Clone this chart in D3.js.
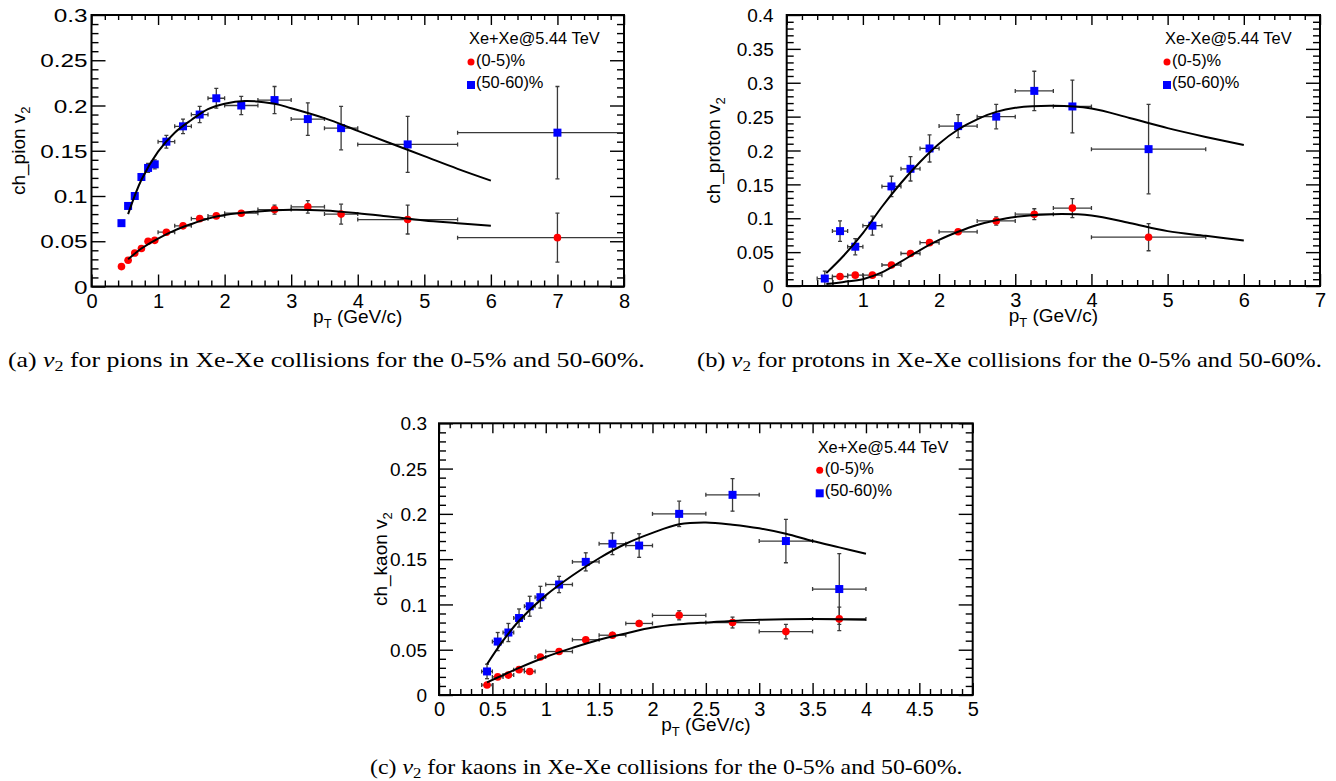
<!DOCTYPE html>
<html>
<head>
<meta charset="utf-8">
<script src="https://cdn.jsdelivr.net/npm/d3@7"></script>
<style>
  body { margin: 0; background: #fff; }
  svg { display: block; }
</style>
</head>
<body>
<svg id="fig" width="1336" height="781"></svg>
<script>
// ---------------- pions ----------------
const pionPt      = [0.45, 0.55, 0.65, 0.75, 0.85, 0.95, 1.125, 1.375, 1.625, 1.875, 2.25, 2.75, 3.25, 3.75, 4.75, 7.0];
const pionPtErr   = [0.05, 0.05, 0.05, 0.05, 0.05, 0.05, 0.125, 0.125, 0.125, 0.125, 0.25, 0.25, 0.25, 0.25, 0.75, 1.5];
const pionV2Central      = [0.022, 0.029, 0.037, 0.042, 0.050, 0.051, 0.060, 0.067, 0.075, 0.078, 0.081, 0.085, 0.088, 0.080, 0.074, 0.054];
const pionV2CentralErr   = [0.001, 0.001, 0.001, 0.001, 0.001, 0.001, 0.002, 0.002, 0.002, 0.003, 0.003, 0.005, 0.007, 0.011, 0.016, 0.027];
const pionV2Peripheral    = [0.070, 0.089, 0.100, 0.121, 0.131, 0.135, 0.160, 0.177, 0.190, 0.208, 0.200, 0.206, 0.185, 0.175, 0.157, 0.170];
const pionV2PeripheralErr = [0.002, 0.003, 0.004, 0.004, 0.005, 0.005, 0.007, 0.008, 0.009, 0.011, 0.010, 0.015, 0.018, 0.024, 0.031, 0.051];
const pionFitCentralPt    = [0.55, 0.75, 1.0, 1.25, 1.5, 1.75, 2.0, 2.5, 3.0, 3.5, 4.0, 4.5, 5.0, 5.5, 6.0];
const pionFitCentral      = [0.030, 0.042, 0.053, 0.062, 0.069, 0.075, 0.079, 0.083, 0.0848, 0.084, 0.081, 0.077, 0.073, 0.070, 0.067];
const pionFitPeripheralPt = [0.55, 0.75, 1.0, 1.25, 1.5, 1.75, 2.0, 2.3, 2.75, 3.0, 3.5, 4.0, 4.5, 5.0, 5.5, 6.0];
const pionFitPeripheral   = [0.080, 0.118, 0.149, 0.170, 0.184, 0.196, 0.202, 0.205, 0.202, 0.197, 0.186, 0.172, 0.158, 0.144, 0.130, 0.117];
const pionXTicks = [0, 1, 2, 3, 4, 5, 6, 7, 8];
const pionYTicks = [0, 0.05, 0.1, 0.15, 0.2, 0.25, 0.3];

// ---------------- protons ----------------
const protonPt      = [0.5, 0.7, 0.9, 1.125, 1.375, 1.625, 1.875, 2.25, 2.75, 3.25, 3.75, 4.75];
const protonPtErr   = [0.1, 0.1, 0.1, 0.125, 0.125, 0.125, 0.125, 0.25, 0.25, 0.25, 0.25, 0.75];
const protonV2Central      = [null, 0.014, 0.016, 0.016, 0.031, 0.048, 0.064, 0.080, 0.096, 0.106, 0.115, 0.072];
const protonV2CentralErr   = [null, 0.004, 0.004, 0.004, 0.004, 0.005, 0.005, 0.004, 0.006, 0.008, 0.014, 0.020];
const protonV2Peripheral    = [0.011, 0.081, 0.058, 0.089, 0.147, 0.173, 0.203, 0.236, 0.250, 0.288, 0.265, 0.202];
const protonV2PeripheralErr = [0.011, 0.015, 0.012, 0.014, 0.015, 0.018, 0.020, 0.017, 0.018, 0.029, 0.039, 0.066];
const protonFitPt         = [0.52, 0.75, 1.0, 1.25, 1.5, 1.75, 2.0, 2.25, 2.5, 2.75, 3.0, 3.5, 4.0, 4.5, 5.0, 5.5, 6.0];
const protonFitCentral    = [0.003, 0.006, 0.010, 0.020, 0.036, 0.053, 0.068, 0.080, 0.090, 0.097, 0.102, 0.106, 0.104, 0.093, 0.081, 0.074, 0.067];
const protonFitPeripheral = [0.019, 0.045, 0.078, 0.117, 0.152, 0.183, 0.210, 0.231, 0.246, 0.257, 0.263, 0.266, 0.262, 0.248, 0.233, 0.220, 0.208];
const protonXTicks = [0, 1, 2, 3, 4, 5, 6, 7];
const protonYTicks = [0, 0.05, 0.1, 0.15, 0.2, 0.25, 0.3, 0.35, 0.4];

// ---------------- kaons ----------------
const kaonPt      = [0.45, 0.55, 0.65, 0.75, 0.85, 0.95, 1.125, 1.375, 1.625, 1.875, 2.25, 2.75, 3.25, 3.75];
const kaonPtErr   = [0.05, 0.05, 0.05, 0.05, 0.05, 0.05, 0.125, 0.125, 0.125, 0.125, 0.25, 0.25, 0.25, 0.25];
const kaonV2Central      = [0.011, 0.020, 0.022, 0.028, 0.026, 0.042, 0.048, 0.061, 0.066, 0.079, 0.088, 0.080, 0.070, 0.084];
const kaonV2CentralErr   = [0.003, 0.002, 0.002, 0.002, 0.002, 0.003, 0.003, 0.003, 0.004, 0.004, 0.005, 0.006, 0.008, 0.013];
const kaonV2Peripheral    = [0.026, 0.059, 0.069, 0.085, 0.098, 0.108, 0.122, 0.147, 0.167, 0.165, 0.200, 0.221, 0.170, 0.117];
const kaonV2PeripheralErr = [0.008, 0.010, 0.010, 0.010, 0.011, 0.012, 0.009, 0.010, 0.012, 0.013, 0.014, 0.018, 0.024, 0.039];
const kaonFitCentralPt    = [0.45, 0.6, 0.75, 1.0, 1.25, 1.5, 1.75, 2.0, 2.25, 2.5, 3.0, 3.5, 4.0];
const kaonFitCentral      = [0.014, 0.022, 0.030, 0.042, 0.052, 0.061, 0.068, 0.0745, 0.078, 0.080, 0.083, 0.0838, 0.083];
const kaonFitPeripheralPt = [0.45, 0.6, 0.75, 1.0, 1.25, 1.5, 1.75, 2.0, 2.25, 2.5, 2.75, 3.0, 3.25, 3.5, 3.75, 4.0];
const kaonFitPeripheral   = [0.034, 0.060, 0.082, 0.110, 0.132, 0.151, 0.167, 0.179, 0.1885, 0.1905, 0.188, 0.184, 0.178, 0.170, 0.163, 0.156];
const kaonXTicks = [0, 0.5, 1, 1.5, 2, 2.5, 3, 3.5, 4, 4.5, 5];
const kaonYTicks = [0, 0.05, 0.1, 0.15, 0.2, 0.25, 0.3];

const legendCentral = "(0-5)%";
const legendPeripheral = "(50-60)%";

// ---------------- drawing ----------------
const SANS = "'Liberation Sans', Arial, Helvetica, sans-serif";
const SERIF = "'Liberation Serif', 'DejaVu Serif', serif";
const RED = "#ff0000", BLUE = "#0000ff";
const svg = d3.select("#fig");
const defs = svg.append("defs");
const fmt = d3.format("~g");

function zip(xs, ys, es, xe) {
  return xs.map((v, i) => ({ pt: v, v2: ys[i], err: es ? es[i] : 0, xerr: xe ? xe[i] : 0 }))
           .filter(d => d.v2 !== null);
}

function drawPanel(p) {
  const x = d3.scaleLinear().domain(p.xDomain).range([p.left, p.right]);
  const y = d3.scaleLinear().domain(p.yDomain).range([p.bottom, p.top]);
  const g = svg.append("g");

  defs.append("clipPath").attr("id", "clip-" + p.id)
    .append("rect").attr("x", p.left).attr("y", p.top)
    .attr("width", p.right - p.left).attr("height", p.bottom - p.top);

  const styleAxis = sel => {
    sel.select(".domain").remove();
    sel.selectAll("line").attr("stroke", "#000").attr("stroke-width", 1.4);
    sel.attr("font-family", SANS);
  };

  const xMinor = d3.range(p.xDomain[0], p.xDomain[1] + 1e-9, p.xMinorStep)
    .filter(v => !p.xTicks.some(t => Math.abs(t - v) < 1e-9));
  const yMinor = d3.range(p.yDomain[0], p.yDomain[1] + 1e-9, p.yMinorStep)
    .filter(v => !p.yTicks.some(t => Math.abs(t - v) < 1e-9));

  // minor ticks on all four sides
  g.append("g").attr("transform", `translate(0,${p.bottom})`)
    .call(d3.axisBottom(x).tickValues(xMinor).tickSize(-6).tickSizeOuter(0).tickFormat("")).call(styleAxis);
  g.append("g").attr("transform", `translate(0,${p.top})`)
    .call(d3.axisTop(x).tickValues(xMinor).tickSize(-5).tickSizeOuter(0).tickFormat("")).call(styleAxis);
  g.append("g").attr("transform", `translate(${p.left},0)`)
    .call(d3.axisLeft(y).tickValues(yMinor).tickSize(-7).tickSizeOuter(0).tickFormat("")).call(styleAxis);
  g.append("g").attr("transform", `translate(${p.right},0)`)
    .call(d3.axisRight(y).tickValues(yMinor).tickSize(-7).tickSizeOuter(0).tickFormat("")).call(styleAxis);

  // major ticks with labels
  const xAx = g.append("g").attr("transform", `translate(0,${p.bottom})`)
    .call(d3.axisBottom(x).tickValues(p.xTicks).tickSize(-12).tickSizeOuter(0).tickPadding(0).tickFormat(fmt))
    .call(styleAxis);
  xAx.selectAll("text").attr("font-size", 20).attr("fill", "#000").attr("y", 21).attr("dy", null);
  g.append("g").attr("transform", `translate(0,${p.top})`)
    .call(d3.axisTop(x).tickValues(p.xTicks).tickSize(-10).tickSizeOuter(0).tickFormat("")).call(styleAxis);

  const yAx = g.append("g").attr("transform", `translate(${p.left},0)`)
    .call(d3.axisLeft(y).tickValues(p.yTicks).tickSize(-14).tickSizeOuter(0).tickPadding(0).tickFormat(fmt))
    .call(styleAxis);
  yAx.selectAll("text")
    .attr("font-size", 19).attr("fill", "#000")
    .attr("x", 0).attr("dy", "0.35em")
    .attr("transform", `translate(${-p.yLabelPad},0) scale(${p.yLabelStretch},1)`);
  g.append("g").attr("transform", `translate(${p.right},0)`)
    .call(d3.axisRight(y).tickValues(p.yTicks).tickSize(-14).tickSizeOuter(0).tickFormat("")).call(styleAxis);

  // axis titles
  const xt = g.append("text")
    .attr("x", (p.left + p.right) / 2).attr("y", p.bottom + 36)
    .attr("text-anchor", "middle").attr("font-family", SANS).attr("font-size", 19);
  xt.append("tspan").text("p");
  xt.append("tspan").attr("font-size", 13).attr("dy", 5).text("T");
  xt.append("tspan").attr("dy", -5).text(" (GeV/c)");

  const yt = g.append("text")
    .attr("transform", `translate(${p.left - p.yTitleOffset},${(p.top + p.bottom) / 2}) rotate(-90)`)
    .attr("text-anchor", "middle").attr("font-family", SANS).attr("font-size", 19);
  yt.append("tspan").text(p.yTitle + " v");
  yt.append("tspan").attr("font-size", 13).attr("dy", 5).text("2");

  // data: error bars
  const body = g.append("g").attr("clip-path", `url(#clip-${p.id})`);
  const series = [
    { data: p.central, color: RED, shape: "circle" },
    { data: p.peripheral, color: BLUE, shape: "square" }
  ];
  series.forEach(s => {
    const eg = body.append("g").attr("stroke", "#3a3a3a").attr("stroke-width", 1.3);
    s.data.forEach(d => {
      const cx = x(d.pt), cy = y(d.v2);
      const x0 = x(d.pt - d.xerr), x1 = x(d.pt + d.xerr);
      const y0 = y(d.v2 - d.err), y1 = y(d.v2 + d.err);
      eg.append("line").attr("x1", x0).attr("x2", x1).attr("y1", cy).attr("y2", cy);
      eg.append("line").attr("x1", cx).attr("x2", cx).attr("y1", y0).attr("y2", y1);
      if (Math.abs(y0 - y1) > 8) {
        eg.append("line").attr("x1", cx - 2).attr("x2", cx + 2).attr("y1", y0).attr("y2", y0);
        eg.append("line").attr("x1", cx - 2).attr("x2", cx + 2).attr("y1", y1).attr("y2", y1);
      }
      if (Math.abs(x1 - x0) > 8) {
        eg.append("line").attr("x1", x0).attr("x2", x0).attr("y1", cy - 2).attr("y2", cy + 2);
        eg.append("line").attr("x1", x1).attr("x2", x1).attr("y1", cy - 2).attr("y2", cy + 2);
      }
    });
  });
  // markers
  series.forEach(s => {
    if (s.shape === "circle") {
      body.append("g").selectAll("circle").data(s.data).join("circle")
        .attr("cx", d => x(d.pt)).attr("cy", d => y(d.v2)).attr("r", 3.8).attr("fill", s.color);
    } else {
      body.append("g").selectAll("rect").data(s.data).join("rect")
        .attr("x", d => x(d.pt) - 4).attr("y", d => y(d.v2) - 4)
        .attr("width", 8).attr("height", 8).attr("fill", s.color);
    }
  });
  // fit curves
  const line = d3.line().x(d => x(d[0])).y(d => y(d[1])).curve(d3.curveCatmullRom.alpha(0.5));
  [p.fitCentral, p.fitPeripheral].forEach(f => {
    body.append("path").attr("d", line(f)).attr("fill", "none")
      .attr("stroke", "#000").attr("stroke-width", 2);
  });

  // frame
  g.append("rect").attr("x", p.left).attr("y", p.top)
    .attr("width", p.right - p.left).attr("height", p.bottom - p.top)
    .attr("fill", "none").attr("stroke", "#000").attr("stroke-width", 2);

  // legend
  const lg = g.append("g").attr("font-family", SANS).attr("font-size", 16.4);
  lg.append("text").attr("x", p.right - 155).attr("y", p.top + 29.3).text(p.legendTitle);
  lg.append("circle").attr("cx", p.right - 153).attr("cy", p.top + 47).attr("r", 3.5).attr("fill", RED);
  lg.append("text").attr("x", p.right - 148).attr("y", p.top + 50.5).text(legendCentral);
  lg.append("rect").attr("x", p.right - 157).attr("y", p.top + 66).attr("width", 8).attr("height", 8).attr("fill", BLUE);
  lg.append("text").attr("x", p.right - 148).attr("y", p.top + 73).text(legendPeripheral);
}

function pairs(xs, ys) { return xs.map((v, i) => [v, ys[i]]); }

drawPanel({
  id: "pion", left: 91.5, right: 624, top: 15, bottom: 286.5,
  xDomain: [0, 8], yDomain: [0, 0.3], xTicks: pionXTicks, yTicks: pionYTicks,
  xMinorStep: 0.2, yMinorStep: 0.01, yLabelPad: 4, yLabelStretch: 1.28, yTitleOffset: 66.5,
  yTitle: "ch_pion", legendTitle: "Xe+Xe@5.44 TeV",
  central: zip(pionPt, pionV2Central, pionV2CentralErr, pionPtErr),
  peripheral: zip(pionPt, pionV2Peripheral, pionV2PeripheralErr, pionPtErr),
  fitCentral: pairs(pionFitCentralPt, pionFitCentral),
  fitPeripheral: pairs(pionFitPeripheralPt, pionFitPeripheral)
});

drawPanel({
  id: "proton", left: 786.7, right: 1320, top: 15, bottom: 286,
  xDomain: [0, 7], yDomain: [0, 0.4], xTicks: protonXTicks, yTicks: protonYTicks,
  xMinorStep: 0.2, yMinorStep: 0.01, yLabelPad: 13, yLabelStretch: 1, yTitleOffset: 66.5,
  yTitle: "ch_proton", legendTitle: "Xe-Xe@5.44 TeV",
  central: zip(protonPt, protonV2Central, protonV2CentralErr, protonPtErr),
  peripheral: zip(protonPt, protonV2Peripheral, protonV2PeripheralErr, protonPtErr),
  fitCentral: pairs(protonFitPt, protonFitCentral),
  fitPeripheral: pairs(protonFitPt, protonFitPeripheral)
});

drawPanel({
  id: "kaon", left: 439, right: 972.7, top: 423.3, bottom: 695,
  xDomain: [0, 5], yDomain: [0, 0.3], xTicks: kaonXTicks, yTicks: kaonYTicks,
  xMinorStep: 0.1, yMinorStep: 0.01, yLabelPad: 12, yLabelStretch: 1, yTitleOffset: 52,
  yTitle: "ch_kaon", legendTitle: "Xe+Xe@5.44 TeV",
  central: zip(kaonPt, kaonV2Central, kaonV2CentralErr, kaonPtErr),
  peripheral: zip(kaonPt, kaonV2Peripheral, kaonV2PeripheralErr, kaonPtErr),
  fitCentral: pairs(kaonFitCentralPt, kaonFitCentral),
  fitPeripheral: pairs(kaonFitPeripheralPt, kaonFitPeripheral)
});

// captions, fitted to their printed widths
function caption(letter, particle, x0, x1, baseline) {
  const t = svg.append("text").attr("font-family", SERIF).attr("font-size", 20).attr("x", 0).attr("y", 0);
  t.append("tspan").text(`(${letter}) `);
  t.append("tspan").attr("font-style", "italic").text("v");
  t.append("tspan").attr("font-size", 14).attr("dy", 4).text("2");
  t.append("tspan").attr("dy", -4).text(` for ${particle} in Xe-Xe collisions for the 0-5% and 50-60%.`);
  const w = t.node().getComputedTextLength();
  t.attr("transform", `translate(${x0},${baseline}) scale(${(x1 - x0) / w},1)`);
}
caption("a", "pions", 8, 645, 367);
caption("b", "protons", 697, 1322, 367);
caption("c", "kaons", 370, 963, 774);
</script>
</body>
</html>
